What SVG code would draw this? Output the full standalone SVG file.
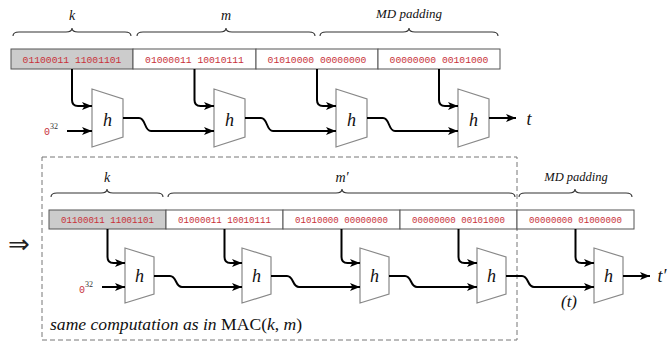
<svg xmlns="http://www.w3.org/2000/svg" width="669" height="342" viewBox="0 0 669 342">
<style>
.box{fill:#fff;stroke:#555;stroke-width:1}
.key{fill:#cccccc}
.bits{font-family:"Liberation Mono",monospace;fill:#c8323a;text-anchor:middle}
.blk{fill:#fff;stroke:#888;stroke-width:1.2}
.hl{font-family:"Liberation Serif",serif;font-style:italic;font-size:18px;text-anchor:middle;fill:#111}
.lbl{font-family:"Liberation Serif",serif;font-style:italic;fill:#111;text-anchor:middle}
.brace{fill:none;stroke:#333;stroke-width:1.1}
.wire{fill:none;stroke:#000;stroke-width:2}
.arr{marker-end:url(#ah)}
</style>
<defs>
<marker id="ah" markerUnits="userSpaceOnUse" markerWidth="11" markerHeight="9" refX="10" refY="4.5" orient="auto">
<path d="M0,0.5 L10,4.5 L0,8.5 L2.5,4.5 z" fill="#000"/>
</marker>
</defs>

<!-- top row braces and labels -->
<g id="top-labels">
<path class="brace" d="M13,36 Q13,32 19,32 H66 Q72,32 72,28 Q72,32 78,32 H125 Q131,32 131,36"/>
<path class="brace" d="M137,36 Q137,32 143,32 H220 Q226,32 226,28 Q226,32 232,32 H309 Q315,32 315,36"/>
<path class="brace" d="M320,36 Q320,32 326,32 H403 Q409,32 409,28 Q409,32 415,32 H492 Q498,32 498,36"/>
<text class="lbl" x="72" y="20" font-size="14">k</text>
<text class="lbl" x="226" y="20" font-size="14">m</text>
<text class="lbl" x="409" y="18" font-size="13">MD padding</text>
</g>

<g id="top-boxes">
<rect class="box key" x="11" y="49" width="122" height="20"/>
<rect class="box" x="133" y="49" width="123" height="20"/>
<rect class="box" x="256" y="49" width="122" height="20"/>
<rect class="box" x="378" y="49" width="122" height="20"/>
<text class="bits" x="72" y="63" font-size="9.7">01100011 11001101</text>
<text class="bits" x="194.5" y="63" font-size="9.7">01000011 10010111</text>
<text class="bits" x="317" y="63" font-size="9.7">01010000 00000000</text>
<text class="bits" x="439" y="63" font-size="9.7">00000000 00101000</text>
</g>

<g id="top-h1"><path class="blk" d="M92,89 L123,99 L123,137 L92,147 z"/><text class="hl" x="107.5" y="126">h</text></g>
<g id="top-h2"><path class="blk" d="M214,89 L245,99 L245,137 L214,147 z"/><text class="hl" x="229.5" y="126">h</text></g>
<g id="top-h3"><path class="blk" d="M336,89 L367,99 L367,137 L336,147 z"/><text class="hl" x="351.5" y="126">h</text></g>
<g id="top-h4"><path class="blk" d="M458,89 L489,99 L489,137 L458,147 z"/><text class="hl" x="473.5" y="126">h</text></g>

<g id="top-iv">
<text x="44" y="135" font-family="Liberation Mono,monospace" font-size="10" fill="#c8323a">0</text>
<text x="50" y="129" font-family="Liberation Serif,serif" font-size="8" fill="#333">32</text>
</g>
<g id="top-out"><text class="lbl" x="529" y="125" font-size="18">t</text></g>

<g id="top-connectors">
<path class="wire arr" d="M72,69 V100 Q72,106 78,106 H92"/>
<path class="wire arr" d="M194.5,69 V100 Q194.5,106 200.5,106 H214"/>
<path class="wire arr" d="M317,69 V100 Q317,106 323,106 H336"/>
<path class="wire arr" d="M439,69 V100 Q439,106 445,106 H458"/>
<path class="wire arr" d="M67,131 H92"/>
<path class="wire arr" d="M123,118 H139 C146,118 144,131 151,131 H214"/>
<path class="wire arr" d="M245,118 H261 C268,118 266,131 273,131 H336"/>
<path class="wire arr" d="M367,118 H383 C390,118 388,131 395,131 H458"/>
<path class="wire arr" d="M489,118 H516"/>
</g>

<!-- bottom part -->
<g id="implies"><text x="19" y="253" font-family="DejaVu Sans,sans-serif" font-size="26" text-anchor="middle" fill="#222">⇒</text></g>
<g id="frame"><rect x="42" y="157" width="475" height="183" fill="none" stroke="#777" stroke-width="1" stroke-dasharray="5,3"/></g>

<g id="bottom-labels">
<path class="brace" d="M51,197 Q51,193 57,193 H101 Q107,193 107,189 Q107,193 113,193 H157 Q163,193 163,197"/>
<path class="brace" d="M168,197 Q168,193 174,193 H336 Q342,193 342,189 Q342,193 348,193 H509 Q515,193 515,197"/>
<path class="brace" d="M519,197 Q519,193 525,193 H569 Q575,193 575,189 Q575,193 581,193 H626 Q632,193 632,197"/>
<text class="lbl" x="107" y="182" font-size="14">k</text>
<text class="lbl" x="342" y="182" font-size="14">m′</text>
<text class="lbl" x="576" y="181" font-size="12.5">MD padding</text>
</g>

<g id="bottom-boxes">
<rect class="box key" x="49" y="210" width="117" height="19"/>
<rect class="box" x="166" y="210" width="117" height="19"/>
<rect class="box" x="283" y="210" width="117" height="19"/>
<rect class="box" x="400" y="210" width="117" height="19"/>
<rect class="box" x="517" y="210" width="117" height="19"/>
<text class="bits" x="107.5" y="223" font-size="9.1">01100011 11001101</text>
<text class="bits" x="224.5" y="223" font-size="9.1">01000011 10010111</text>
<text class="bits" x="341.5" y="223" font-size="9.1">01010000 00000000</text>
<text class="bits" x="458.5" y="223" font-size="9.1">00000000 00101000</text>
<text class="bits" x="575.5" y="223" font-size="9.1">00000000 01000000</text>
</g>

<g id="bot-h1"><path class="blk" d="M125,248 L154,257 L154,294 L125,303 z"/><text class="hl" x="139.5" y="282">h</text></g>
<g id="bot-h2"><path class="blk" d="M242,248 L271,257 L271,294 L242,303 z"/><text class="hl" x="256.5" y="282">h</text></g>
<g id="bot-h3"><path class="blk" d="M360,248 L389,257 L389,294 L360,303 z"/><text class="hl" x="374.5" y="282">h</text></g>
<g id="bot-h4"><path class="blk" d="M477,248 L506,257 L506,294 L477,303 z"/><text class="hl" x="491.5" y="282">h</text></g>
<g id="bot-h5"><path class="blk" d="M594,248 L623,257 L623,294 L594,303 z"/><text class="hl" x="608.5" y="282">h</text></g>

<g id="bot-iv">
<text x="79" y="293" font-family="Liberation Mono,monospace" font-size="10" fill="#c8323a">0</text>
<text x="85" y="287" font-family="Liberation Serif,serif" font-size="8" fill="#333">32</text>
</g>
<g id="bot-out"><text class="lbl" x="662" y="282" font-size="18">t′</text></g>
<g id="bot-t"><text class="lbl" x="569" y="307" font-size="17">(t)</text></g>
<g id="caption"><text x="50" y="330" font-family="Liberation Serif,serif" font-size="17.6" fill="#111"><tspan font-style="italic">same computation as in </tspan>MAC(<tspan font-style="italic">k</tspan>, <tspan font-style="italic">m</tspan>)</text></g>

<g id="bottom-connectors">
<path class="wire arr" d="M107.5,229 V257 Q107.5,263 113.5,263 H125"/>
<path class="wire arr" d="M224.5,229 V257 Q224.5,263 230.5,263 H242"/>
<path class="wire arr" d="M341.5,229 V257 Q341.5,263 347.5,263 H360"/>
<path class="wire arr" d="M458.5,229 V257 Q458.5,263 464.5,263 H477"/>
<path class="wire arr" d="M575.5,229 V257 Q575.5,263 581.5,263 H594"/>
<path class="wire arr" d="M102,287 H125"/>
<path class="wire arr" d="M154,276 H170 C177,276 175,287 182,287 H242"/>
<path class="wire arr" d="M271,276 H287 C294,276 292,287 299,287 H360"/>
<path class="wire arr" d="M389,276 H405 C412,276 410,287 417,287 H477"/>
<path class="wire arr" d="M506,276 H522 C529,276 527,287 534,287 H594"/>
<path class="wire arr" d="M623,276 H650"/>
</g>
</svg>
